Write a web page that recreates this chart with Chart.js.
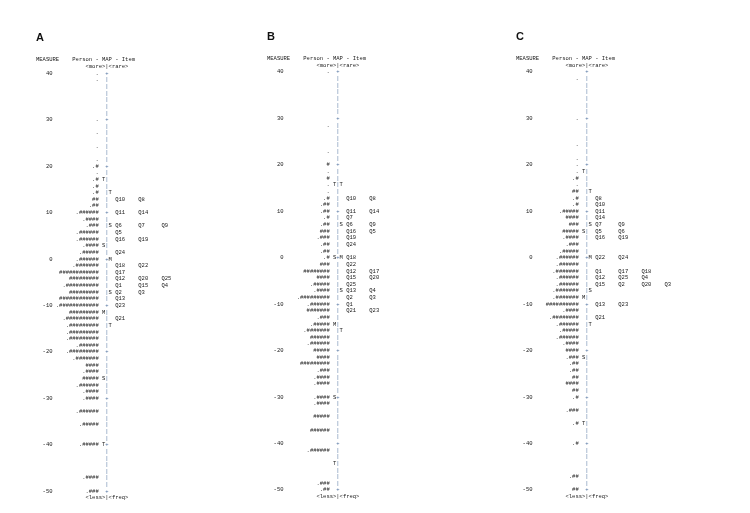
<!DOCTYPE html>
<html>
<head>
<meta charset="utf-8">
<script src="https://cdn.jsdelivr.net/npm/chart.js@4.4.1/dist/chart.umd.min.js"></script>
<style>
  body { margin: 0; background: #fff; }
  #wrap { position: relative; width: 750px; height: 513px; }
  #wrap canvas { position: absolute; top: 0; }
</style>
</head>
<body>
<div id="wrap">
  <canvas id="mapA" width="250" height="513" style="left:0px"></canvas>
  <canvas id="mapB" width="250" height="513" style="left:250px"></canvas>
  <canvas id="mapC" width="250" height="513" style="left:500px"></canvas>
</div>
<script>
// Person - MAP - Item (Wright maps) for forms A, B and C

const measureTicks = [40, 30, 20, 10, 0, -10, -20, -30, -40, -50];
const rowsPerTen = 7; // the map prints 7 text lines per 10 measure units

// persons column, one string per printed line, top (40) to bottom (-50)
const personsA = [
  ".", ".", "", "", "", "", "", ".", "", ".", "", ".", "", ".",
  ".#", ".", ".#", ".#", ".#", "##", ".##",
  ".######", ".####", ".###", ".######", ".######", ".####", ".#####",
  ".######", ".#######", "############", "#########", ".##########", "#########", "############",
  ".############", "#########", ".##########", ".#########", ".#########", ".#########", ".######",
  ".#########", ".#######", "####", ".####", "#####", ".######", ".####",
  ".####", "", ".######", "", ".#####", "", "",
  ".#####", "", "", "", "", ".####", "", ".###"
];
const personsB = [
  ".", "", "", "", "", "", "", "", ".", "", "", "", ".", "",
  "#", ".", "#", ".", ".", ".#", ".##",
  ".##", ".#", ".##", "###", ".###", ".##", ".##",
  ".#", "###", "########", "####", ".#####", ".####", ".#########",
  ".######", "#######", ".###", ".#####", ".#######", "######", ".######",
  "#####", "####", "#########", ".###", ".####", ".####", "",
  ".####", ".####", "", "#####", "", "######", "",
  "", ".######", "", "", "", "", ".###", ".##"
];
const personsC = [
  "", ".", "", "", "", "", "", ".", "", "", "", ".", "", ".",
  ".", ".", ".#", ".", "##", ".#", ".#",
  ".#####", "####", "###", "#####", ".####", ".###", ".#####",
  ".######", ".######", ".#######", ".######", ".######", ".#######", ".#######",
  "##########", ".####", ".########", ".######", ".#####", ".######", ".####",
  "####", ".###", ".##", ".##", "##", "####", "##",
  ".#", "", ".###", "", ".#", "", "",
  ".#", "", "", "", "", ".##", "", "##"
];

// items: [line, item names...]
const itemsA = [
  [19, "Q10", "Q8"], [21, "Q11", "Q14"], [23, "Q6", "Q7", "Q9"], [24, "Q5"],
  [25, "Q16", "Q19"], [27, "Q24"], [29, "Q18", "Q22"], [30, "Q17"],
  [31, "Q12", "Q20", "Q25"], [32, "Q1", "Q15", "Q4"], [33, "Q2", "Q3"],
  [34, "Q13"], [35, "Q23"], [37, "Q21"]
];
const itemsB = [
  [19, "Q10", "Q8"], [21, "Q11", "Q14"], [22, "Q7"], [23, "Q6", "Q9"],
  [24, "Q16", "Q5"], [25, "Q19"], [26, "Q24"], [28, "Q18"], [29, "Q22"],
  [30, "Q12", "Q17"], [31, "Q15", "Q20"], [32, "Q25"], [33, "Q13", "Q4"],
  [34, "Q2", "Q3"], [35, "Q1"], [36, "Q21", "Q23"]
];
const itemsC = [
  [19, "Q8"], [20, "Q10"], [21, "Q11"], [22, "Q14"], [23, "Q7", "Q9"],
  [24, "Q5", "Q6"], [25, "Q16", "Q19"], [28, "Q22", "Q24"],
  [30, "Q1", "Q17", "Q18"], [31, "Q12", "Q25", "Q4"], [32, "Q15", "Q2", "Q20", "Q3"],
  [35, "Q13", "Q23"], [37, "Q21"]
];

// M / S / T markers left (persons) and right (items) of the axis
const leftMarksA = [[16, "T"], [26, "S"], [36, "M"], [46, "S"], [56, "T"]];
const rightMarksA = [[18, "T"], [23, "S"], [28, "M"], [33, "S"], [38, "T"]];
const leftMarksB = [[17, "T"], [28, "S"], [38, "M"], [49, "S"], [59, "T"]];
const rightMarksB = [[17, "T"], [23, "S"], [28, "M"], [33, "S"], [39, "T"]];
const leftMarksC = [[15, "T"], [24, "S"], [34, "M"], [43, "S"], [53, "T"]];
const rightMarksC = [[18, "T"], [23, "S"], [28, "M"], [33, "S"], [38, "T"]];

const charW = 3.3;
const fontSize = 5.5;
const mono = "'Liberation Mono', 'DejaVu Sans Mono', monospace";
const textColor = "#1a1a1a";
const axisColor = "#4d6f9e";
const panelW = 250;

function rowMeasure(row) {
  return measureTicks[0] - (row * 10) / rowsPerTen;
}

function textSet(points, align, font, color) {
  return {
    data: points,
    textAlign: align,
    textFont: font || fontSize + "px " + mono,
    textColor: color || textColor,
    pointRadius: 0,
  };
}

function buildDatasets(label, persons, items, leftMarks, rightMarks) {
  const personPts = [];
  const axisPts = [];
  persons.forEach((t, i) => {
    const y = rowMeasure(i);
    if (t) personPts.push({ x: 19, y: y, t: t });
    const onTick = measureTicks.some((v) => Math.abs(v - y) < 1e-6);
    axisPts.push({ x: 21, y: y, t: onTick ? "+" : "|" });
  });
  const markPts = [];
  leftMarks.forEach(([r, t]) => markPts.push({ x: 20, y: rowMeasure(r), t: t }));
  rightMarks.forEach(([r, t]) => markPts.push({ x: 22, y: rowMeasure(r), t: t }));
  const itemPts = [];
  items.forEach(([r, ...names]) => {
    names.forEach((n, k) => itemPts.push({ x: 24 + 7 * k, y: rowMeasure(r), t: n }));
  });
  const headPts = [
    { x: 0, y: rowMeasure(-2), t: "MEASURE" },
    { x: 11, y: rowMeasure(-2), t: "Person - MAP - Item" },
    { x: 15, y: rowMeasure(-1), t: "<more>|<rare>" },
    { x: 15, y: rowMeasure(persons.length), t: "<less>|<freq>" },
  ];
  return [
    textSet(personPts, "right"),
    textSet(axisPts, "left", null, axisColor),
    textSet(markPts, "left"),
    textSet(itemPts, "left"),
    textSet(headPts, "left"),
    textSet([{ x: 0, y: rowMeasure(-5.3), t: label }], "left",
      "bold 11px 'Liberation Sans', Arial, sans-serif", "#111"),
  ];
}

const textMarks = {
  id: "textMarks",
  afterDatasetsDraw(chart) {
    const ctx = chart.ctx;
    ctx.save();
    chart.data.datasets.forEach((ds, i) => {
      const meta = chart.getDatasetMeta(i);
      ctx.font = ds.textFont;
      ctx.fillStyle = ds.textColor;
      ctx.textAlign = ds.textAlign;
      ctx.textBaseline = "middle";
      meta.data.forEach((el, j) => ctx.fillText(ds.data[j].t, el.x, el.y));
    });
    ctx.restore();
  },
};

function renderMap(canvasId, label, persons, items, leftMarks, rightMarks, padLeft, y40) {
  const unitPx = 418 / 90;
  const yMax = 46;
  const yMin = -53;
  const padTop = y40 - (yMax - 40) * unitPx;
  const padBottom = 513 - padTop - (yMax - yMin) * unitPx;
  const xMin = 6;
  const xMax = xMin + (panelW - padLeft - xMin * charW) / charW;

  new Chart(document.getElementById(canvasId), {
    type: "scatter",
    data: { datasets: buildDatasets(label, persons, items, leftMarks, rightMarks) },
    options: {
      responsive: false,
      animation: false,
      events: [],
      layout: { padding: { left: padLeft, top: padTop, bottom: padBottom, right: 0 } },
      plugins: { legend: { display: false }, tooltip: { enabled: false } },
      scales: {
        x: { type: "linear", display: false, min: xMin, max: xMax },
        y: {
          type: "linear",
          min: yMin,
          max: yMax,
          afterBuildTicks: (s) => {
            s.ticks = measureTicks.map((v) => ({ value: v }));
          },
          afterFit: (s) => {
            s.width = xMin * charW;
          },
          grid: { display: false, drawTicks: false },
          border: { display: false },
          ticks: { padding: charW, color: textColor, font: { family: mono, size: fontSize } },
        },
      },
    },
    plugins: [textMarks],
  });
}

renderMap("mapA", "A", personsA, itemsA, leftMarksA, rightMarksA, 36, 73.3);
renderMap("mapB", "B", personsB, itemsB, leftMarksB, rightMarksB, 17, 72);
renderMap("mapC", "C", personsC, itemsC, leftMarksC, rightMarksC, 16, 72);
</script>
</body>
</html>
